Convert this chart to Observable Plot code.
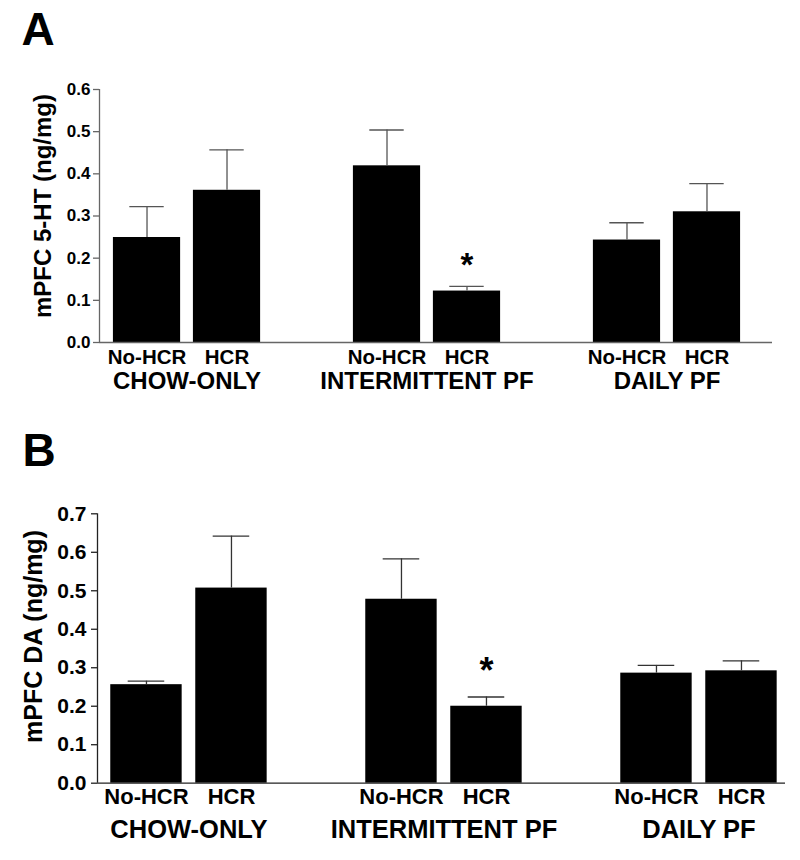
<!DOCTYPE html>
<html>
<head>
<meta charset="utf-8">
<script src="https://cdn.jsdelivr.net/npm/d3@7"></script>
<script src="https://cdn.jsdelivr.net/npm/@observablehq/plot@0.6"></script>
<style>
  html, body { margin: 0; padding: 0; background: #fff; }
  #chart { width: 800px; }
  #chart svg { display: block; }
</style>
</head>
<body>
<div id="chart"></div>
<script>
const groups = ["CHOW-ONLY", "INTERMITTENT PF", "DAILY PF"];
const conditions = ["No-HCR", "HCR"];
const serotoninMean = [0.249, 0.361, 0.419, 0.122, 0.243, 0.310];
const serotoninSem  = [0.073, 0.096, 0.085, 0.011, 0.041, 0.067];
const dopamineMean  = [0.256, 0.507, 0.478, 0.200, 0.286, 0.292];
const dopamineSem   = [0.009, 0.135, 0.105, 0.024, 0.020, 0.026];
const significant   = [false, false, false, true, false, false];
const ticksA = [0, 0.1, 0.2, 0.3, 0.4, 0.5, 0.6];
const ticksB = [0, 0.1, 0.2, 0.3, 0.4, 0.5, 0.6, 0.7];

function rows(means, sems) {
  return means.map((m, i) => ({
    group: groups[Math.floor(i / 2)],
    condition: conditions[i % 2],
    pos: Math.floor(i / 2) * 3 + (i % 2),
    mean: m,
    top: m + sems[i],
    sig: significant[i]
  }));
}
const groupRows = groups.map((g, i) => ({group: g, pos: i * 3 + 0.5}));

function panel(o) {
  const data = rows(o.means, o.sems);
  return Plot.plot({
    width: 800,
    height: 430,
    marginLeft: o.marginLeft,
    marginRight: o.marginRight,
    marginTop: o.marginTop,
    marginBottom: o.marginBottom,
    style: {fontFamily: "'Liberation Sans', Arial, Helvetica, sans-serif", fontWeight: "bold", color: "#000", background: "#fff", overflow: "visible"},
    x: {type: "linear", domain: o.xDomain, axis: null},
    y: {domain: [0, o.ticks[o.ticks.length - 1]], axis: null},
    marks: [
      Plot.rectY(data, {x1: d => d.pos - 0.42, x2: d => d.pos + 0.42, y1: 0, y2: "mean", fill: "#000"}),
      Plot.ruleX(data, {x: "pos", y1: "mean", y2: "top", stroke: o.errColor, strokeWidth: 1.3}),
      Plot.ruleY(data, {y: "top", x1: d => d.pos - 0.215, x2: d => d.pos + 0.215, stroke: o.errColor, strokeWidth: 1.3}),
      Plot.ruleY([0], {stroke: o.axisColor, strokeWidth: 1.3}),
      Plot.ruleX([o.xDomain[0]], {y1: 0, y2: o.ticks[o.ticks.length - 1], stroke: o.axisColor, strokeWidth: 1.3}),
      Plot.axisY(o.ticks, {anchor: "left", tickFormat: d3.format(".1f"), tickSize: 6, tickPadding: o.tickPadding, fontSize: o.tickFont, stroke: o.axisColor, strokeWidth: 1.3, fill: "#000", label: null}),
      Plot.text(data, {x: "pos", text: "condition", frameAnchor: "bottom", dy: o.condDy, fontSize: o.condFont, fill: "#000"}),
      Plot.text(groupRows, {x: "pos", text: "group", frameAnchor: "bottom", dy: o.groupDy, fontSize: o.groupFont, fill: "#000"}),
      Plot.text(data.filter(d => d.sig), {x: "pos", y: "top", text: () => "*", dy: o.starDy, fontSize: o.starFont, fill: "#000"}),
      Plot.text([o.yLabel], {frameAnchor: "left", textAnchor: "middle", lineAnchor: "middle", rotate: -90, dx: o.yLabelDx, dy: o.yLabelDy, fontSize: o.yLabelFont, fill: "#000"}),
      Plot.text([o.letter], {frameAnchor: "top-left", textAnchor: "start", lineAnchor: "top", dx: o.letterDx, dy: o.letterDy, fontSize: 46, fill: "#000"})
    ]
  });
}

const chart = document.getElementById("chart");
chart.append(panel({
  letter: "A", means: serotoninMean, sems: serotoninSem, ticks: ticksA,
  yLabel: "mPFC 5-HT (ng/mg)",
  marginLeft: 99, marginRight: 28, marginTop: 89, marginBottom: 88,
  xDomain: [-0.594, 7.819],
  errColor: "#555", axisColor: "#666", tickPadding: 3, tickFont: 17,
  condDy: 21, condFont: 20.5, groupDy: 46, groupFont: 24,
  starDy: -21, starFont: 33,
  yLabelDx: -56, yLabelDy: -10, yLabelFont: 24,
  letterDx: -78, letterDy: -77
}));
chart.append(panel({
  letter: "B", means: dopamineMean, sems: dopamineSem, ticks: ticksB,
  yLabel: "mPFC DA (ng/mg)",
  marginLeft: 97, marginRight: 15, marginTop: 83.3, marginBottom: 77.3,
  xDomain: [-0.576, 7.518],
  errColor: "#333", axisColor: "#222", tickPadding: 5, tickFont: 21,
  condDy: 21, condFont: 22, groupDy: 55, groupFont: 25.5,
  starDy: -26, starFont: 36,
  yLabelDx: -64, yLabelDy: -12, yLabelFont: 25,
  letterDx: -75, letterDy: -80
}));
</script>
</body>
</html>
